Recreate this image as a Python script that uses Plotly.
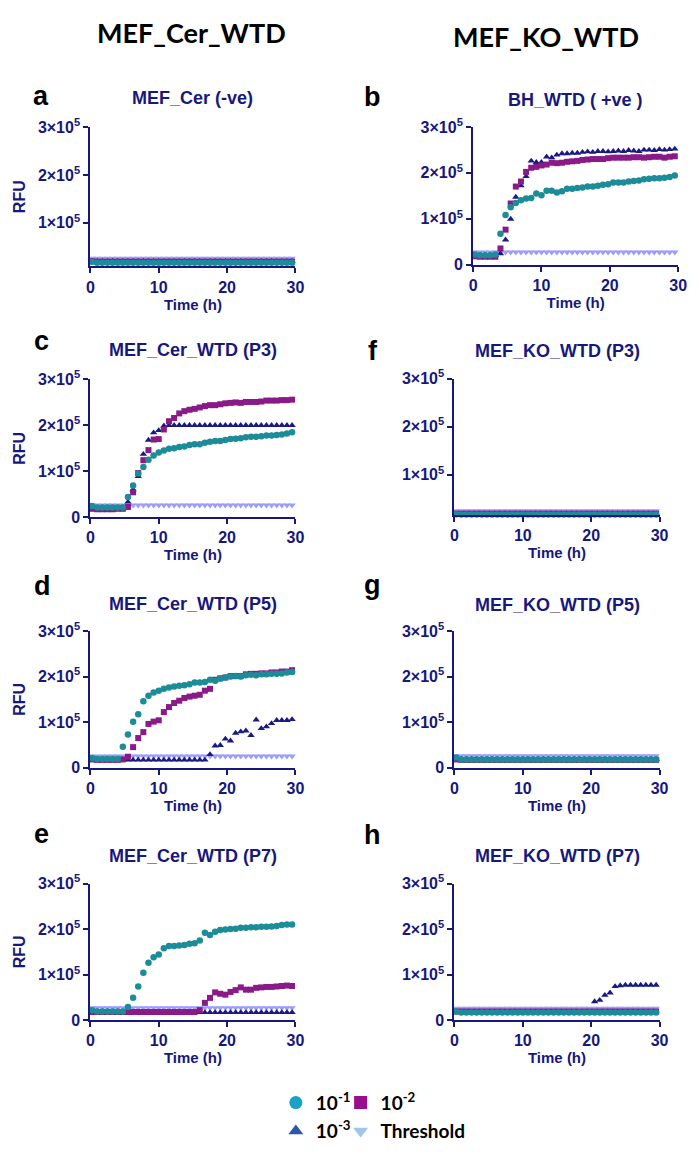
import plotly.graph_objects as go

W, H = 698, 1152
NAVY = "#17177c"
FONT = "Liberation Sans"
HEAD_FONT = "Lato"

# ---------------- data (time in h, fluorescence in thousands of RFU) ----------------
T = [0.25, 1, 1.75, 2.5, 3.25, 4, 4.75, 5.5, 6.25, 7, 7.75, 8.5, 9.25, 10, 10.75, 11.5,
     12.25, 13, 13.75, 14.5, 15.25, 16, 16.75, 17.5, 18.25, 19, 19.75, 20.5, 21.25, 22,
     22.75, 23.5, 24.25, 25, 25.75, 26.5, 27.25, 28, 28.75, 29.5]

SERIES = ["10<sup>-1</sup>", "10<sup>-2</sup>", "10<sup>-3</sup>", "Threshold"]

# a  MEF_Cer (-ve)
A_C = [19, 17, 17, 17, 17, 17, 17, 17, 17, 17, 17, 17, 17, 17, 17, 17, 17, 17, 17, 17,
       17, 17, 17, 17, 17, 17, 17, 17, 17, 17, 17, 17, 17, 17, 17, 17, 17, 17, 17, 17]
A_P = [20, 19, 19, 19, 19, 19, 19, 19, 19, 19, 19, 19, 19, 19, 19, 19, 19, 19, 19, 19,
       19, 19, 19, 19, 19, 19, 19, 19, 19, 19, 19, 19, 19, 19, 19, 19, 19, 19, 19, 19]
A_N = [20, 20, 20, 20, 20, 20, 20, 20, 20, 20, 20, 20, 20, 20, 20, 20, 20, 20, 20, 20,
       20, 20, 20, 20, 20, 20, 20, 20, 20, 20, 20, 20, 20, 20, 20, 20, 20, 20, 20, 20]
A_T = [26, 26, 26, 26, 26, 26, 26, 26, 26, 26, 26, 26, 26, 26, 26, 26, 26, 26, 26, 26,
       26, 26, 26, 26, 26, 26, 26, 26, 26, 26, 26, 26, 26, 26, 26, 26, 26, 26, 26, 26]

# b  BH_WTD (+ve)
B_C = [22, 20, 20, 20, 22, 67, 108, 125, 134, 140, 144, 145, 155, 151, 161, 161, 157, 160, 165, 165,
       167, 168, 170, 170, 172, 174, 175, 179, 179, 179, 181, 182, 183, 186, 187, 188, 188, 189, 191, 194]
B_P = [18, 17, 17, 17, 17, 35, 76, 133, 170, 181, 202, 211, 213, 216, 218, 222, 221, 222, 224, 225,
       226, 228, 229, 230, 230, 230, 232, 233, 233, 233, 233, 234, 234, 233, 234, 235, 235, 233, 235, 236]
B_N = [20, 20, 20, 20, 20, 24, 54, 99, 147, 172, 192, 226, 223, 223, 235, 233, 239, 242, 242, 243,
       243, 245, 246, 245, 247, 247, 246, 247, 248, 247, 249, 248, 247, 250, 250, 249, 251, 250, 251, 252]
B_T = [27, 27, 27, 27, 27, 27, 27, 27, 27, 27, 27, 27, 27, 27, 27, 27, 27, 27, 27, 27,
       27, 27, 27, 27, 27, 27, 27, 27, 27, 27, 27, 27, 27, 27, 27, 27, 27, 27, 27, 27]

# c  MEF_Cer_WTD (P3)
C_C = [24, 21, 21, 21, 21, 21, 21, 44, 69, 95, 109, 125, 134, 141, 145, 149, 150, 153, 154, 157,
       159, 159, 162, 164, 166, 166, 168, 170, 171, 172, 174, 175, 175, 176, 178, 178, 179, 180, 182, 185]
C_P = [18, 17, 17, 17, 17, 18, 18, 22, 54, 96, 124, 146, 169, 170, 191, 209, 216, 226, 231, 234,
       236, 239, 242, 244, 244, 246, 248, 249, 250, 249, 251, 251, 251, 252, 254, 254, 254, 255, 255, 256]
C_N = [20, 20, 20, 20, 20, 20, 20, 33, 60, 89, 137, 168, 184, 189, 199, 200, 200, 200, 200, 200,
       200, 200, 200, 200, 200, 200, 200, 200, 200, 200, 200, 200, 200, 200, 200, 200, 200, 200, 200, 200]
C_T = [26, 26, 26, 26, 26, 26, 26, 26, 26, 26, 26, 26, 26, 26, 26, 26, 26, 26, 26, 26,
       26, 26, 26, 26, 26, 26, 26, 26, 26, 26, 26, 26, 26, 26, 26, 26, 26, 26, 26, 26]

# d  MEF_Cer_WTD (P5)
D_C = [21, 19, 19, 19, 19, 19, 46, 73, 101, 117, 146, 158, 165, 169, 173, 176, 178, 180, 181, 183,
       187, 187, 188, 193, 191, 196, 198, 200, 201, 200, 203, 204, 203, 205, 205, 206, 206, 207, 209, 210]
D_P = [18, 17, 17, 17, 17, 17, 18, 24, 45, 65, 78, 96, 101, 104, 122, 133, 142, 147, 153, 156,
       158, 160, 169, 173, 193, 196, 198, 201, 201, 201, 205, 206, 206, 207, 207, 209, 209, 211, 211, 214]
D_N = [17, 17, 17, 17, 17, 17, 17, 17, 17, 17, 17, 17, 17, 17, 17, 17, 17, 17, 17, 17,
       17, 17, 17, 29, 48, 49, 63, 59, 76, 79, 81, 71, 105, 86, 90, 97, 104, 104, 104, 106]
D_T = [25, 25, 25, 25, 25, 25, 25, 25, 25, 25, 25, 25, 25, 25, 25, 25, 25, 25, 25, 25,
       25, 25, 25, 25, 25, 25, 25, 25, 25, 25, 25, 25, 25, 25, 25, 25, 25, 25, 25, 25]

# e  MEF_Cer_WTD (P7)
E_C = [22, 19, 19, 19, 19, 19, 19, 29, 49, 74, 104, 126, 138, 144, 158, 163, 163, 164, 165, 168,
       169, 175, 192, 187, 194, 198, 199, 200, 201, 203, 203, 204, 204, 205, 205, 206, 207, 209, 210, 210]
E_P = [18, 18, 18, 18, 18, 18, 18, 18, 18, 18, 18, 18, 18, 18, 18, 18, 18, 18, 18, 18,
       18, 22, 38, 49, 61, 58, 56, 62, 66, 72, 67, 67, 71, 72, 73, 73, 74, 75, 76, 75]
E_N = [17, 17, 17, 17, 17, 17, 17, 17, 17, 17, 17, 17, 17, 17, 17, 17, 17, 17, 17, 17,
       17, 17, 17, 17, 17, 17, 17, 17, 17, 17, 17, 17, 17, 17, 17, 17, 17, 17, 17, 17]
E_T = [27, 27, 27, 27, 27, 27, 27, 27, 27, 27, 27, 27, 27, 27, 27, 27, 27, 27, 27, 27,
       27, 27, 27, 27, 27, 27, 27, 27, 27, 27, 27, 27, 27, 27, 27, 27, 27, 27, 27, 27]

# f  MEF_KO_WTD (P3)
F_C = [18, 17, 17, 17, 17, 17, 17, 17, 17, 17, 17, 17, 17, 17, 17, 17, 17, 17, 17, 17,
       17, 17, 17, 17, 17, 17, 17, 17, 17, 17, 17, 17, 17, 17, 17, 17, 17, 17, 17, 17]
F_P = [19, 19, 19, 19, 19, 19, 19, 19, 19, 19, 19, 19, 19, 19, 19, 19, 19, 19, 19, 19,
       19, 19, 19, 19, 19, 19, 19, 19, 19, 19, 19, 19, 19, 19, 19, 19, 19, 19, 19, 19]
F_N = [19, 19, 19, 19, 19, 19, 19, 19, 19, 19, 19, 19, 19, 19, 19, 19, 19, 19, 19, 19,
       19, 19, 19, 19, 19, 19, 19, 19, 19, 19, 19, 19, 19, 19, 19, 19, 19, 19, 19, 19]
F_T = [25, 25, 25, 25, 25, 25, 25, 25, 25, 25, 25, 25, 25, 25, 25, 25, 25, 25, 25, 25,
       25, 25, 25, 25, 25, 25, 25, 25, 25, 25, 25, 25, 25, 25, 25, 25, 25, 25, 25, 25]

# g  MEF_KO_WTD (P5)
G_C = [22, 18, 18, 18, 18, 18, 18, 18, 18, 18, 18, 18, 18, 18, 18, 18, 18, 18, 18, 18,
       18, 18, 18, 18, 18, 18, 18, 18, 18, 18, 18, 18, 18, 18, 18, 18, 18, 18, 18, 18]
G_P = [18, 17, 17, 17, 17, 17, 17, 17, 17, 17, 17, 17, 17, 17, 17, 17, 17, 17, 17, 17,
       17, 17, 17, 17, 17, 17, 17, 17, 17, 17, 17, 17, 17, 17, 17, 17, 17, 17, 17, 17]
G_N = [18, 18, 18, 18, 18, 18, 18, 18, 18, 18, 18, 18, 18, 18, 18, 18, 18, 18, 18, 18,
       18, 18, 18, 18, 18, 18, 18, 18, 18, 18, 18, 18, 18, 18, 18, 18, 18, 18, 18, 18]
G_T = [26, 26, 26, 26, 26, 26, 26, 26, 26, 26, 26, 26, 26, 26, 26, 26, 26, 26, 26, 26,
       26, 26, 26, 26, 26, 26, 26, 26, 26, 26, 26, 26, 26, 26, 26, 26, 26, 26, 26, 26]

# h  MEF_KO_WTD (P7)
H_C = [19, 17, 17, 17, 17, 17, 17, 17, 17, 17, 17, 17, 17, 17, 17, 17, 17, 17, 17, 17,
       17, 17, 17, 17, 17, 17, 17, 17, 17, 17, 17, 17, 17, 17, 17, 17, 17, 17, 17, 17]
H_P = [19, 19, 19, 19, 19, 19, 19, 19, 19, 19, 19, 19, 19, 19, 19, 19, 19, 19, 19, 19,
       19, 19, 19, 19, 19, 19, 19, 19, 19, 19, 19, 19, 19, 19, 19, 19, 19, 19, 19, 19]
H_N = [17, 17, 17, 17, 17, 17, 17, 17, 17, 17, 17, 17, 17, 17, 17, 17, 17, 17, 17, 17,
       17, 17, 17, 17, 17, 17, 17, 41, 44, 55, 60, 74, 76, 77, 77, 77, 77, 77, 77, 77]
H_T = [26, 26, 26, 26, 26, 26, 26, 26, 26, 26, 26, 26, 26, 26, 26, 26, 26, 26, 26, 26,
       26, 26, 26, 26, 26, 26, 26, 26, 26, 26, 26, 26, 26, 26, 26, 26, 26, 26, 26, 26]

X_TICKS = [0, 10, 20, 30]
Y_TICKS = [0, 100, 200, 300]
Y_TICKTEXT = ["0", "1×10<sup>5</sup>", "2×10<sup>5</sup>", "3×10<sup>5</sup>"]

# ---------------- layout table (pixel boxes) ----------------
PANELS = [
    dict(letter="a", title="MEF_Cer (-ve)", data=(A_C, A_P, A_N, A_T), box=(88, 297, 118, 260), yr=(9, 300), rfu=True,
         lx=38, lby=96, ty=89),
    dict(letter="b", title="BH_WTD ( +ve )", data=(B_C, B_P, B_N, B_T), box=(478, 687, 118, 258), yr=(0, 300), rfu=False,
         lx=375, lby=96.5, ty=91),
    dict(letter="c", title="MEF_Cer_WTD (P3)", data=(C_C, C_P, C_N, C_T), box=(88, 297, 375, 515), yr=(0, 300), rfu=True,
         lx=38, lby=345, ty=344.5),
    dict(letter="f", title="MEF_KO_WTD (P3)", data=(F_C, F_P, F_N, F_T), box=(459, 668, 374, 513), yr=(16, 300), rfu=False,
         lx=376, lby=355, ty=345.5),
    dict(letter="d", title="MEF_Cer_WTD (P5)", data=(D_C, D_P, D_N, D_T), box=(88, 297, 631, 770), yr=(0, 300), rfu=True,
         lx=39, lby=595, ty=603.5),
    dict(letter="g", title="MEF_KO_WTD (P5)", data=(G_C, G_P, G_N, G_T), box=(459, 668, 631, 770), yr=(0, 300), rfu=False,
         lx=375, lby=594, ty=604.5),
    dict(letter="e", title="MEF_Cer_WTD (P7)", data=(E_C, E_P, E_N, E_T), box=(88, 297, 888, 1027), yr=(0, 300), rfu=True,
         lx=38, lby=847, ty=859.5),
    dict(letter="h", title="MEF_KO_WTD (P7)", data=(H_C, H_P, H_N, H_T), box=(459, 668, 888, 1027), yr=(0, 300), rfu=False,
         lx=375, lby=848, ty=859.5),
]

PLOT_COLORS = ["#1b8c98", "#8a1a88", "#1a1a82", "#9c9cff"]
LEGEND_COLORS = ["#18a3c6", "#9a0f8d", "#2f58a4", "#9ec6ec"]
SYMBOLS = ["circle", "square", "triangle-up", "triangle-down"]
SIZES = [6.5, 6, 6.5, 6.5]
DRAW_ORDER = [3, 2, 1, 0]
# legend entry anchor points (left edge px, centre y px)
LEGEND_POS = [(277, 1111), (343, 1111), (277, 1140), (343, 1140)]


def fx(px):
    return px / W


def fy(py):
    return 1 - py / H


fig = go.Figure()
layout = dict(
    width=W, height=H, margin=dict(l=0, r=0, t=0, b=0),
    paper_bgcolor="white", plot_bgcolor="white", showlegend=True,
)
annotations = []
LETTER_SIZE = 27

for i, p in enumerate(PANELS, start=1):
    s = "" if i == 1 else str(i)
    x0, x1, y0, y1 = p["box"]
    for k in DRAW_ORDER:
        fig.add_trace(go.Scatter(
            x=T, y=p["data"][k], mode="markers", xaxis="x" + s, yaxis="y" + s,
            marker=dict(symbol=SYMBOLS[k], color=PLOT_COLORS[k], size=SIZES[k], line=dict(width=0)),
            showlegend=False, cliponaxis=False, hoverinfo="skip",
        ))
    axis_common = dict(
        showline=True, linecolor=NAVY, linewidth=2, ticks="outside", ticklen=5, tickwidth=2,
        tickcolor=NAVY, showgrid=False, zeroline=False, fixedrange=True,
        tickfont=dict(family=FONT, size=16, color=NAVY, weight="bold"),
    )
    layout["xaxis" + s] = dict(
        axis_common, domain=[fx(x0), fx(x1)], range=[0, 30], anchor="y" + s,
        tickvals=X_TICKS, ticktext=[str(v) for v in X_TICKS],
        title=dict(text="Time (h)", font=dict(family=FONT, size=15, color=NAVY, weight="bold"), standoff=0),
    )
    ydict = dict(
        axis_common, domain=[fy(y1), fy(y0)], range=list(p["yr"]), anchor="x" + s,
        tickvals=Y_TICKS, ticktext=Y_TICKTEXT,
    )
    if p["rfu"]:
        ydict["title"] = dict(text="RFU", font=dict(family=FONT, size=16, color=NAVY, weight="bold"), standoff=8)
    layout["yaxis" + s] = ydict
    annotations.append(dict(
        text=p["title"], x=fx((x0 + x1) / 2), y=fy(p["ty"]), xref="paper", yref="paper",
        xanchor="center", yanchor="middle", showarrow=False,
        font=dict(family=FONT, size=18, color=NAVY, weight="bold"),
    ))
    annotations.append(dict(
        text=p["letter"], x=fx(p["lx"]), y=fy(p["lby"] - 0.35 * LETTER_SIZE), xref="paper", yref="paper",
        xanchor="center", yanchor="middle", showarrow=False,
        font=dict(family=FONT, size=LETTER_SIZE, color="black", weight="bold"),
    ))

annotations.append(dict(text="MEF_Cer_WTD", x=fx(191), y=fy(22), xref="paper", yref="paper",
                        xanchor="center", yanchor="middle", showarrow=False,
                        font=dict(family=HEAD_FONT, size=27, color="black", weight="bold")))
annotations.append(dict(text="MEF_KO_WTD", x=fx(552), y=fy(26), xref="paper", yref="paper",
                        xanchor="center", yanchor="middle", showarrow=False,
                        font=dict(family=HEAD_FONT, size=27, color="black", weight="bold")))

# legend entries: one small legend per entry so each sits where the reference puts it
LEGEND_IDS = ["legend", "legend2", "legend3", "legend4"]
for k in range(4):
    fig.add_trace(go.Scatter(
        x=[None], y=[None], mode="markers", name=SERIES[k],
        marker=dict(symbol=SYMBOLS[k], color=LEGEND_COLORS[k], size=13, line=dict(width=0)),
        legend=LEGEND_IDS[k], showlegend=True, hoverinfo="skip",
    ))
    lx, ly = LEGEND_POS[k]
    layout[LEGEND_IDS[k]] = dict(
        orientation="h", xanchor="left", yanchor="middle", bgcolor="rgba(0,0,0,0)",
        font=dict(family=HEAD_FONT, size=19, color="black", weight="bold"),
        itemclick=False, itemdoubleclick=False, x=fx(lx), y=fy(ly),
    )
layout["annotations"] = annotations

fig.update_layout(**layout)
PAGE_FIX = (
    "var d=document.documentElement,b=document.body;"
    "d.style.margin='0';d.style.padding='0';d.style.overflow='hidden';"
    "b.style.margin='0';b.style.padding='0';b.style.overflow='hidden';"
)
fig.write_html("out.html", config={"displayModeBar": False, "responsive": False}, post_script=PAGE_FIX)
